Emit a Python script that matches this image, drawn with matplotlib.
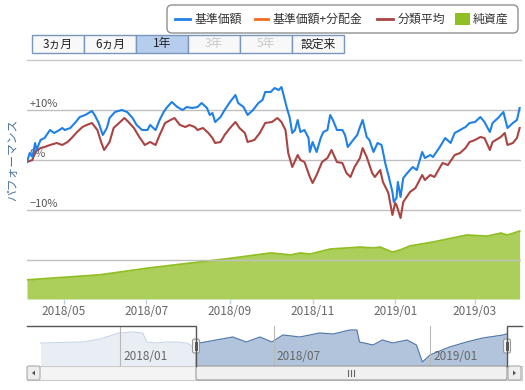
import pandas as pd
import matplotlib
matplotlib.use("Agg")
import matplotlib.pyplot as plt
import matplotlib.dates as mdates
from matplotlib.patches import Rectangle, FancyBboxPatch, Polygon

plt.rcParams['font.family'] = ['Noto Sans CJK JP', 'DejaVu Sans']

# 基準価額 (騰落率 %)
blue_dates = ["2018-04-04", "2018-04-06", "2018-04-08", "2018-04-10", "2018-04-11", "2018-04-14",
              "2018-04-17", "2018-04-21", "2018-04-24", "2018-04-28", "2018-04-30", "2018-05-02",
              "2018-05-06", "2018-05-10", "2018-05-13", "2018-05-17", "2018-05-22", "2018-05-24",
              "2018-05-27", "2018-05-30", "2018-06-02", "2018-06-04", "2018-06-08", "2018-06-13",
              "2018-06-17", "2018-06-21", "2018-06-24", "2018-06-28", "2018-07-02", "2018-07-04",
              "2018-07-08", "2018-07-11", "2018-07-14", "2018-07-16", "2018-07-20", "2018-07-24",
              "2018-07-28", "2018-07-31", "2018-08-04", "2018-08-08", "2018-08-11", "2018-08-15",
              "2018-08-17", "2018-08-19", "2018-08-21", "2018-08-25", "2018-08-28", "2018-09-01",
              "2018-09-05", "2018-09-07", "2018-09-11", "2018-09-14", "2018-09-18", "2018-09-22",
              "2018-09-25", "2018-09-27", "2018-10-01", "2018-10-04", "2018-10-07", "2018-10-09",
              "2018-10-10", "2018-10-13", "2018-10-15", "2018-10-17", "2018-10-19", "2018-10-21",
              "2018-10-23", "2018-10-26", "2018-10-29", "2018-10-30", "2018-11-01", "2018-11-04",
              "2018-11-07", "2018-11-09", "2018-11-12", "2018-11-14", "2018-11-16", "2018-11-19",
              "2018-11-23", "2018-11-25", "2018-11-27", "2018-12-01", "2018-12-04", "2018-12-06",
              "2018-12-08", "2018-12-11", "2018-12-13", "2018-12-16", "2018-12-19", "2018-12-22",
              "2018-12-25", "2018-12-27", "2018-12-30", "2018-12-31", "2019-01-02", "2019-01-03",
              "2019-01-05", "2019-01-07", "2019-01-10", "2019-01-14", "2019-01-17", "2019-01-21",
              "2019-01-23", "2019-01-27", "2019-01-29", "2019-02-03", "2019-02-07", "2019-02-11",
              "2019-02-14", "2019-02-18", "2019-02-22", "2019-02-25", "2019-03-01", "2019-03-05",
              "2019-03-08", "2019-03-12", "2019-03-14", "2019-03-18", "2019-03-22", "2019-03-25",
              "2019-03-29", "2019-04-01", "2019-04-03"]
blue_vals = [-0.4, 1.4, 0.6, 3.4, 2.0, 4.0,
             4.4, 6.0, 5.4, 6.0, 6.4, 6.0,
             6.4, 7.6, 8.6, 9.0, 9.8, 9.0,
             7.4, 5.0, 6.4, 8.4, 9.6, 10.0,
             9.6, 8.4, 7.0, 6.0, 6.0, 7.0,
             6.0, 8.0, 9.6, 10.4, 11.6, 10.6,
             10.0, 10.6, 10.4, 10.6, 11.4, 10.4,
             9.0, 9.4, 7.6, 8.6, 10.0, 11.6,
             13.0, 11.4, 10.6, 9.0, 10.0, 11.4,
             12.0, 13.6, 13.6, 14.4, 14.0, 14.6,
             13.6, 10.4, 8.6, 5.4, 6.0, 8.0,
             5.6, 6.0, 4.4, 1.6, 3.6, 1.6,
             4.4, 5.6, 6.0, 9.0, 8.0, 6.0,
             6.0, 5.0, 2.6, 4.0, 5.0, 6.6,
             8.0, 4.6, 4.0, 1.6, 3.4, 3.0,
             -1.0, -3.0, -6.4, -8.4, -7.6, -4.4,
             -7.4, -3.6, -2.6, -1.4, -2.0, 1.6,
             0.4, 1.0, 0.6, 2.6, 4.4, 3.4,
             5.4, 6.0, 6.6, 7.4, 7.6, 8.6,
             7.6, 5.6, 7.4, 8.4, 9.6, 6.4,
             7.4, 8.0, 10.4]

# 分類平均 (騰落率 %)
red_dates = ["2018-04-04", "2018-04-08", "2018-04-10", "2018-04-14", "2018-04-17", "2018-04-21",
             "2018-04-26", "2018-04-30", "2018-05-04", "2018-05-07", "2018-05-11", "2018-05-15",
             "2018-05-18", "2018-05-22", "2018-05-26", "2018-05-29", "2018-05-31", "2018-06-04",
             "2018-06-07", "2018-06-11", "2018-06-15", "2018-06-18", "2018-06-22", "2018-06-26",
             "2018-06-30", "2018-07-04", "2018-07-08", "2018-07-11", "2018-07-15", "2018-07-19",
             "2018-07-22", "2018-07-26", "2018-07-30", "2018-08-02", "2018-08-06", "2018-08-08",
             "2018-08-12", "2018-08-16", "2018-08-19", "2018-08-21", "2018-08-25", "2018-08-28",
             "2018-09-01", "2018-09-05", "2018-09-08", "2018-09-12", "2018-09-14", "2018-09-19",
             "2018-09-23", "2018-09-27", "2018-10-02", "2018-10-06", "2018-10-09", "2018-10-12",
             "2018-10-14", "2018-10-17", "2018-10-21", "2018-10-23", "2018-10-26", "2018-10-30",
             "2018-11-01", "2018-11-04", "2018-11-08", "2018-11-12", "2018-11-15", "2018-11-19",
             "2018-11-23", "2018-11-26", "2018-11-29", "2018-12-02", "2018-12-06", "2018-12-08",
             "2018-12-11", "2018-12-15", "2018-12-17", "2018-12-21", "2018-12-23", "2018-12-27",
             "2018-12-30", "2019-01-01", "2019-01-02", "2019-01-05", "2019-01-07", "2019-01-12",
             "2019-01-16", "2019-01-21", "2019-01-23", "2019-01-27", "2019-01-30", "2019-02-05",
             "2019-02-09", "2019-02-14", "2019-02-18", "2019-02-22", "2019-02-25", "2019-03-01",
             "2019-03-05", "2019-03-08", "2019-03-12", "2019-03-14", "2019-03-20", "2019-03-23",
             "2019-03-25", "2019-03-29", "2019-04-01", "2019-04-03"]
red_vals = [-0.4, 0.0, 1.6, 2.4, 2.6, 3.0,
            3.4, 3.0, 3.6, 4.4, 5.6, 6.6,
            7.0, 7.4, 6.0, 3.4, 2.0, 3.6,
            6.4, 7.4, 8.4, 7.6, 6.4, 4.6,
            3.0, 3.6, 3.0, 5.0, 7.4, 8.0,
            8.4, 7.0, 6.6, 7.0, 6.6, 6.0,
            6.4, 5.4, 4.4, 3.4, 3.6, 5.0,
            6.4, 7.6, 6.4, 5.4, 3.6, 4.0,
            5.4, 7.4, 7.6, 8.4, 7.6, 6.0,
            1.4, -1.4, 1.0, 0.0, -0.4, -3.4,
            -4.6, -3.0, -0.4, 0.4, 2.0, -0.4,
            -0.6, -2.6, -3.4, -1.4, 0.4, 2.4,
            0.6, -2.6, -3.4, -2.0, -4.4, -6.6,
            -11.0, -8.6, -9.0, -11.6, -8.4, -6.4,
            -5.6, -3.0, -4.0, -3.0, -3.4, -0.6,
            -1.0, 1.0, 1.4, 2.4, 3.6, 4.0,
            4.6, 4.4, 2.0, 3.6, 4.6, 5.4,
            3.0, 3.4, 4.4, 6.4]

# 純資産 (億円)
asset_dates = ["2018-04-04", "2018-05-28", "2018-07-04", "2018-08-10", "2018-09-03", "2018-10-01",
               "2018-10-16", "2018-10-23", "2018-10-30", "2018-11-14", "2018-12-06", "2018-12-16",
               "2018-12-21", "2018-12-30", "2019-01-05", "2019-01-12", "2019-01-29", "2019-02-23",
               "2019-03-10", "2019-03-20", "2019-03-25", "2019-04-03"]
asset_vals = [49, 62, 80, 95, 105, 118,
              113, 118, 115, 128, 133, 131,
              133, 120, 126, 136, 146, 164,
              161, 169, 164, 174]

# ナビゲーター (基準価額の推移)
nav_dates = ["2017-09-30", "2017-11-19", "2017-12-09", "2017-12-31", "2018-01-16", "2018-01-28",
             "2018-02-02", "2018-02-13", "2018-02-25", "2018-03-09", "2018-03-21", "2018-03-29",
             "2018-04-05", "2018-05-14", "2018-05-30", "2018-06-15", "2018-06-29", "2018-07-12",
             "2018-08-01", "2018-08-24", "2018-09-09", "2018-09-29", "2018-10-07", "2018-10-10",
             "2018-10-26", "2018-11-06", "2018-11-18", "2018-12-05", "2018-12-16", "2018-12-23",
             "2019-01-01", "2019-01-24", "2019-02-13", "2019-03-04", "2019-03-28", "2019-04-01"]
nav_vals = [23, 24, 27, 33, 34, 33,
            24, 23, 24, 24, 23, 19,
            23, 29, 24, 29, 24, 31,
            29, 33, 32, 36, 36, 24,
            21, 26, 23, 26, 21, 4,
            11, 19, 24, 28, 31, 32]

legend_labels = ["基準価額", "基準価額+分配金", "分類平均", "純資産"]
range_buttons = ["3ヵ月", "6ヵ月", "1年", "3年", "5年", "設定来"]
pct_ticks = [10, 0, -10]
pct_labels = ["+10%", "0%", "−10%"]
nav_ticks = ["2018-01-01", "2018-07-01", "2019-01-01"]
nav_tick_labels = ["2018/01", "2018/07", "2019/01"]

BLUE = "#1f80e6"
ORANGE = "#f26c1c"
RED = "#a94442"
GREEN = "#90bf24"

W, H = 525, 390
fig = plt.figure(figsize=(W / 100, H / 100), dpi=100)

def box(x0, y0, x1, y1):
    return [x0 / W, 1 - y1 / H, (x1 - x0) / W, (y1 - y0) / H]

# ---- main chart ----
ax = fig.add_axes(box(27, 61, 521, 299))
ax2 = ax.twinx()
ax.set_zorder(ax2.get_zorder() + 1)
ax.patch.set_visible(False)

ad = pd.to_datetime(asset_dates)
ax2.fill_between(ad, asset_vals, 0, color=GREEN, alpha=0.75, lw=0)
ax2.plot(ad, asset_vals, color=GREEN, lw=1.3)
ax2.set_ylim(0, 610)
ax2.set_yticks([])

for g in [10, 0, -10, -20]:
    ax.axhline(g, color="#c0c0c0", lw=1, zorder=1)
for v, lab in zip(pct_ticks, pct_labels):
    ax.text(0.006, v + 0.3, lab, transform=ax.get_yaxis_transform(), ha="left", va="bottom",
            fontsize=8, color="#555555", zorder=2)

ax.plot(pd.to_datetime(red_dates), red_vals, color=RED, lw=1.5, zorder=3)
ax.plot(pd.to_datetime(blue_dates), blue_vals, color=BLUE, lw=1.5, zorder=4)
ax.set_ylim(-27.8, 19.8)
ax.set_xlim(pd.Timestamp("2018-04-04"), pd.Timestamp("2019-04-04"))
ax.set_yticks([])
for a in (ax, ax2):
    for s in a.spines.values():
        s.set_visible(False)
ax.xaxis.set_major_locator(mdates.MonthLocator(bymonth=[1, 3, 5, 7, 9, 11]))
ax.xaxis.set_major_formatter(mdates.DateFormatter("%Y/%m"))
ax.tick_params(axis="x", direction="out", length=3.5, width=1, color="#c0d0e0",
               labelsize=8.5, labelcolor="#666666", pad=1)
ax2.tick_params(axis="x", length=0, labelbottom=False)

fig.text(13 / W, 1 - 160 / H, "パフォーマンス", rotation=90, ha="center", va="center",
         fontsize=8.5, color="#4d759e")

# ---- navigator ----
nav = fig.add_axes(box(27, 326, 521, 366))
nd = pd.to_datetime(nav_dates)
nav.set_xlim(pd.Timestamp("2017-09-14"), pd.Timestamp("2019-04-18"))
nav.set_ylim(0, 40)
nav.fill_between(nd, nav_vals, 0, color="#e9eef5", lw=0)
nav.plot(nd, nav_vals, color="#c9d6e8", lw=0.8)
sel0, sel1 = mdates.date2num(pd.Timestamp("2018-03-31")), mdates.date2num(pd.Timestamp("2019-04-01"))
clip = Rectangle((sel0, 0), sel1 - sel0, 40, transform=nav.transData)
dark = nav.fill_between(nd, nav_vals, 0, color="#b2c4dc", lw=0)
dark.set_clip_path(clip)
dl, = nav.plot(nd, nav_vals, color="#4f78aa", lw=0.8)
dl.set_clip_path(clip)
for d, lab in zip(nav_ticks, nav_tick_labels):
    t = pd.Timestamp(d)
    nav.axvline(t, color="#b8b8b8", lw=0.8)
    nav.text(t + pd.Timedelta(days=4), 3, lab, fontsize=8.5, color="#666666", ha="left", va="bottom")
nav.set_xticks([])
nav.set_yticks([])
for s in nav.spines.values():
    s.set_visible(False)

# ---- UI overlay (legend, buttons, scrollbar) ----
ui = fig.add_axes([0, 0, 1, 1])
ui.set_xlim(0, W)
ui.set_ylim(H, 0)
ui.axis("off")
ui.patch.set_visible(False)

# legend
ui.add_patch(FancyBboxPatch((167, 5), 351, 28, boxstyle="round,pad=0,rounding_size=5",
                            fc="white", ec="#909090", lw=1))
ui.plot([175, 190], [19, 19], color=BLUE, lw=2)
ui.text(195, 19, legend_labels[0], fontsize=8.6, color="#333333", va="center")
ui.plot([255, 268], [19, 19], color=ORANGE, lw=2)
ui.text(273, 19, legend_labels[1], fontsize=8.6, color="#333333", va="center")
ui.plot([377, 393], [19, 19], color=RED, lw=2)
ui.text(398, 19, legend_labels[2], fontsize=8.6, color="#333333", va="center")
ui.add_patch(Rectangle((455, 13), 15, 12, fc=GREEN, ec="none"))
ui.text(473, 19, legend_labels[3], fontsize=8.6, color="#333333", va="center")

# range buttons
edges = [32, 84, 136, 188, 240, 292, 344]
for i, lab in enumerate(range_buttons):
    sel = lab == "1年"
    off = lab in ("3年", "5年")
    ui.add_patch(Rectangle((edges[i], 35), edges[i + 1] - edges[i], 18,
                           fc="#b7cdee" if sel else "#f8f8f8", ec="#7a96bd", lw=1))
    ui.text((edges[i] + edges[i + 1]) / 2, 44, lab, ha="center", va="center", fontsize=8.5,
            color="#c8c8c8" if off else "#222222")
ui.plot([27, 521], [60, 60], color="#c8c8c8", lw=1)

# navigator outline and handles
ui.plot([27, 196, 196], [326, 326, 366], color="#555555", lw=1)
ui.plot([507, 507, 522], [366, 326, 326], color="#555555", lw=1)
for hx in (196, 507):
    ui.add_patch(FancyBboxPatch((hx - 3.5, 339), 7, 14, boxstyle="round,pad=0,rounding_size=2",
                                fc="#f2f2f2", ec="#999999", lw=0.8))
    ui.plot([hx - 1, hx - 1], [342, 350], color="#555555", lw=0.7)
    ui.plot([hx + 1, hx + 1], [342, 350], color="#555555", lw=0.7)

# scrollbar
ui.add_patch(Rectangle((27, 366), 495, 14, fc="#f4f4f4", ec="#cccccc", lw=0.8))
ui.add_patch(FancyBboxPatch((196, 366), 311, 14, boxstyle="round,pad=0,rounding_size=2",
                            fc="#f0f0f0", ec="#999999", lw=0.8))
for gx in (348, 351, 354):
    ui.plot([gx, gx], [370, 376], color="#666666", lw=0.8)
for bx in (27, 508):
    ui.add_patch(FancyBboxPatch((bx, 366), 13, 14, boxstyle="round,pad=0,rounding_size=2",
                                fc="#eeeeee", ec="#aaaaaa", lw=0.8))
ui.add_patch(Polygon([[35, 370.5], [35, 375.5], [32, 373]], closed=True, fc="#555555", ec="none"))
ui.add_patch(Polygon([[513, 370.5], [513, 375.5], [516, 373]], closed=True, fc="#555555", ec="none"))

fig.savefig("out.png", dpi=100)
